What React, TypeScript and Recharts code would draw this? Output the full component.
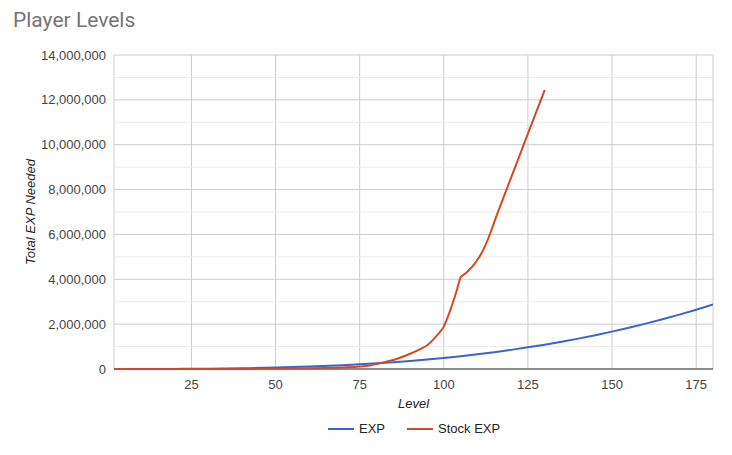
import React from "react";
import {
  LineChart,
  Line,
  XAxis,
  YAxis,
  CartesianGrid,
  ReferenceLine,
} from "recharts";

// values
const expLevels = [2, 10, 20, 25, 30, 40, 50, 60, 70, 75, 80, 85, 90, 95, 100, 105, 110, 115, 120, 125, 130, 135, 140, 145, 150, 155, 160, 165, 170, 175, 180];
const expValues = [0, 500, 4000, 8000, 14000, 32000, 62000, 107000, 170000, 209000, 252000, 303000, 360000, 424000, 494000, 572000, 658000, 752000, 853000, 965000, 1085000, 1215000, 1355000, 1505000, 1667000, 1838000, 2022000, 2218000, 2424000, 2643000, 2875000];

const stockLevels = [2, 20, 40, 50, 60, 65, 70, 75, 78, 80, 82, 85, 87, 90, 93, 95, 97, 98, 99, 100, 101, 102, 103, 104, 105, 106, 107, 108, 109, 110, 111, 112, 113, 114, 115, 116, 118, 120, 122, 124, 126, 128, 130];
const stockValues = [0, 1000, 5000, 12000, 30000, 45000, 70000, 110000, 160000, 220000, 290000, 400000, 500000, 680000, 890000, 1050000, 1330000, 1500000, 1680000, 1890000, 2250000, 2650000, 3100000, 3580000, 4090000, 4210000, 4340000, 4490000, 4660000, 4870000, 5110000, 5400000, 5740000, 6130000, 6550000, 6960000, 7750000, 8530000, 9310000, 10100000, 10880000, 11660000, 12440000];

const xTicks = [25, 50, 75, 100, 125, 150, 175];
const yTicks = [0, 2000000, 4000000, 6000000, 8000000, 10000000, 12000000, 14000000];
const yMinor = [1000000, 3000000, 5000000, 7000000, 9000000, 11000000, 13000000];

const seriesNames = ["EXP", "Stock EXP"];
const seriesColors = ["#3c62cc", "#d34a22"];

const expData = expLevels.map((level, i) => ({ level, value: expValues[i] }));
const stockData = stockLevels.map((level, i) => ({ level, value: stockValues[i] }));

const font = "'Liberation Sans', Arial, sans-serif";

export default function App() {
  return (
    <div style={{ position: "absolute", left: 0, top: 0, width: 732, height: 455, fontFamily: font }}>
      <div style={{ position: "absolute", left: 13, top: 8, fontSize: 21, color: "#757575", fontFamily: "Roboto, " + font }}>
        Player Levels
      </div>
      <LineChart width={732} height={455} margin={{ top: 55, right: 19, left: 0, bottom: 0 }}>
        <CartesianGrid stroke="#cccccc" strokeWidth={1} />
        {yMinor.map((v) => (
          <ReferenceLine key={v} y={v} stroke="#ebebeb" strokeWidth={1} />
        ))}
        <XAxis
          type="number"
          dataKey="level"
          domain={[2, 180]}
          ticks={xTicks}
          allowDataOverflow
          axisLine={false}
          tickLine={false}
          tickSize={0}
          tickMargin={11}
          height={86}
          tick={{ fontSize: 13, fill: "#444444", fontFamily: font }}
          label={{ value: "Level", position: "insideTop", offset: 30, style: { fontSize: 13, fill: "#222222", fontStyle: "italic", fontFamily: font } }}
        />
        <YAxis
          type="number"
          domain={[0, 14000000]}
          ticks={yTicks}
          axisLine={false}
          tickLine={false}
          tickSize={0}
          tickMargin={8}
          width={114}
          tick={{ fontSize: 13, fill: "#444444", fontFamily: font }}
          tickFormatter={(v: number) => v.toLocaleString("en-US")}
          label={{ value: "Total EXP Needed", angle: -90, position: "insideLeft", offset: 30, style: { textAnchor: "middle", fontSize: 13, fill: "#222222", fontStyle: "italic", fontFamily: font } }}
        />
        <ReferenceLine y={0} stroke="#333333" strokeWidth={1} />
        <Line data={expData} dataKey="value" name={seriesNames[0]} type="monotone" stroke={seriesColors[0]} strokeWidth={2} dot={false} isAnimationActive={false} />
        <Line data={stockData} dataKey="value" name={seriesNames[1]} type="monotone" stroke={seriesColors[1]} strokeWidth={2} dot={false} isAnimationActive={false} />
      </LineChart>
      <div style={{ position: "absolute", left: 328, top: 421, display: "flex", alignItems: "center", fontSize: 13, color: "#222222" }}>
        {seriesNames.map((name, i) => (
          <div key={name} style={{ display: "flex", alignItems: "center", marginRight: 22 }}>
            <div style={{ width: 26, height: 2, background: seriesColors[i], marginRight: 5 }} />
            <span>{name}</span>
          </div>
        ))}
      </div>
    </div>
  );
}
